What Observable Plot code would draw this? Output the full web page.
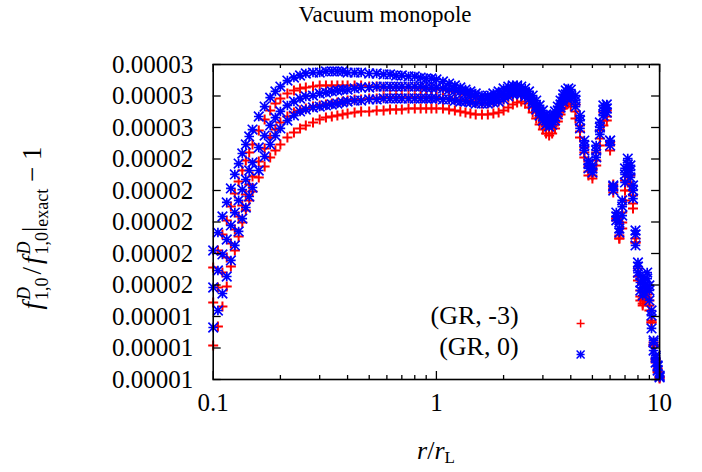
<!DOCTYPE html>
<html><head><meta charset="utf-8">
<script src="https://cdn.jsdelivr.net/npm/d3@7"></script>
<script src="https://cdn.jsdelivr.net/npm/@observablehq/plot@0.6"></script>
<style>html,body{margin:0;padding:0;background:#fff;}svg{display:block;}</style>
</head><body><div id="chart"></div>
<script>
const UNIT = 1e-5;
const FONT = "Liberation Serif";
const titleText = "Vacuum monopole";
const seriesLabels = ["(GR, -3)", "(GR, 0)"];
const seriesColors = ["#ff0000", "#0000ff"];

// r / r_L sample positions
const rValues = [
 0.100,0.105,0.110,0.115,0.120,0.125,0.130,0.135,0.140,0.145,
 0.150,0.160,0.170,0.180,0.190,0.200,0.215,0.230,0.245,0.260,
 0.280,0.300,0.32,0.34,0.36,0.38,0.40,0.43,0.46,0.50,
 0.54,0.58,0.62,0.66,0.70,0.75,0.80,0.85,0.90,0.95,
 1.00,1.07,1.14,1.21,1.28,1.35,1.42,1.50,1.6,1.7,
 1.8,1.9,2.0,2.1,2.2,2.3,2.4,2.5,2.6,2.7,
 2.8,2.9,3.0,3.1,3.2,3.3,3.4,3.5,3.6,3.7,
 3.8,3.9,4.0,4.2,4.4,4.6,4.8,5.0,5.2,5.4,
 5.6,5.8,6.0,6.2,6.4,6.6,6.8,7.0,7.2,7.4,
 7.6,7.8,8.0,8.2,8.4,8.6,8.8,9.0,9.2,9.4,
 9.6,9.8,10.0];

// (GR, -3): three curves, values in units of 1e-5
const grm3_a = [
 1.711,1.819,1.921,2.010,2.098,2.181,2.257,2.327,2.390,2.441,
 2.492,2.581,2.651,2.708,2.752,2.784,2.816,2.835,2.848,2.854,
 2.860,2.867,2.867,2.867,2.867,2.867,2.867,2.867,2.867,2.860,
 2.860,2.854,2.854,2.854,2.854,2.854,2.854,2.848,2.848,2.848,
 2.841,2.841,2.835,2.829,2.822,2.810,2.803,2.790,2.778,2.778,
 2.784,2.797,2.810,2.829,2.841,2.848,2.841,2.829,2.803,2.771,
 2.733,2.695,2.663,2.638,2.625,2.638,2.663,2.702,2.746,2.784,
 2.810,2.822,2.803,2.746,2.613,2.473,2.352,2.327,2.441,2.581,
 2.695,2.708,2.486,2.213,2.022,1.914,2.060,2.263,2.340,2.295,
 2.168,1.895,1.705,1.565,1.514,1.540,1.565,1.502,1.375,1.235,
 1.133,1.070,1.019];
const grm3_b = [
 1.489,1.584,1.679,1.775,1.863,1.952,2.035,2.105,2.175,2.238,
 2.289,2.384,2.467,2.537,2.587,2.632,2.670,2.695,2.708,2.721,
 2.733,2.740,2.746,2.752,2.759,2.765,2.771,2.778,2.778,2.784,
 2.784,2.790,2.790,2.790,2.790,2.790,2.790,2.790,2.790,2.790,
 2.790,2.784,2.784,2.778,2.771,2.771,2.765,2.759,2.752,2.752,
 2.759,2.765,2.778,2.790,2.803,2.810,2.803,2.790,2.765,2.733,
 2.702,2.663,2.632,2.606,2.594,2.606,2.632,2.670,2.714,2.752,
 2.778,2.784,2.771,2.702,2.575,2.441,2.321,2.295,2.390,2.530,
 2.644,2.670,2.505,2.238,2.010,1.895,1.997,2.200,2.289,2.238,
 2.117,1.870,1.654,1.527,1.483,1.514,1.540,1.470,1.362,1.216,
 1.121,1.051,1.013];
const grm3_c = [
 1.216,1.337,1.463,1.590,1.717,1.819,1.908,1.997,2.073,2.137,
 2.194,2.283,2.352,2.410,2.454,2.492,2.537,2.568,2.594,2.613,
 2.632,2.651,2.663,2.670,2.676,2.683,2.689,2.695,2.702,2.702,
 2.708,2.708,2.714,2.714,2.714,2.721,2.721,2.721,2.721,2.721,
 2.721,2.721,2.714,2.708,2.702,2.695,2.689,2.683,2.683,2.683,
 2.689,2.695,2.708,2.727,2.746,2.759,2.765,2.752,2.727,2.695,
 2.657,2.619,2.587,2.562,2.549,2.562,2.594,2.638,2.683,2.721,
 2.746,2.752,2.733,2.657,2.537,2.410,2.295,2.276,2.359,2.486,
 2.613,2.644,2.454,2.187,2.022,1.895,1.959,2.137,2.251,2.200,
 2.086,1.870,1.629,1.502,1.470,1.502,1.521,1.438,1.362,1.216,
 1.108,1.044,1.006];

// (GR, 0): three curves, values in units of 1e-5
const gr0_a = [
 1.819,1.933,2.035,2.124,2.213,2.302,2.371,2.435,2.492,2.543,
 2.587,2.670,2.733,2.790,2.829,2.860,2.898,2.917,2.930,2.943,
 2.949,2.949,2.956,2.956,2.956,2.956,2.949,2.949,2.949,2.943,
 2.943,2.937,2.937,2.930,2.930,2.924,2.924,2.917,2.911,2.911,
 2.905,2.892,2.879,2.867,2.854,2.841,2.829,2.816,2.803,2.803,
 2.816,2.829,2.848,2.860,2.867,2.867,2.860,2.848,2.829,2.803,
 2.771,2.740,2.708,2.683,2.670,2.676,2.702,2.733,2.771,2.810,
 2.835,2.848,2.841,2.803,2.676,2.517,2.390,2.359,2.486,2.632,
 2.740,2.746,2.517,2.232,2.060,1.997,2.137,2.340,2.403,2.359,
 2.232,1.946,1.743,1.660,1.629,1.641,1.679,1.597,1.438,1.248,
 1.152,1.089,1.025];
const gr0_b = [
 1.584,1.692,1.794,1.889,1.978,2.060,2.137,2.206,2.270,2.327,
 2.378,2.473,2.549,2.613,2.663,2.702,2.740,2.765,2.784,2.797,
 2.803,2.816,2.822,2.829,2.835,2.841,2.841,2.848,2.854,2.854,
 2.860,2.860,2.860,2.860,2.860,2.860,2.860,2.860,2.854,2.854,
 2.854,2.848,2.841,2.835,2.829,2.816,2.810,2.797,2.784,2.784,
 2.790,2.803,2.816,2.829,2.835,2.835,2.829,2.816,2.797,2.765,
 2.733,2.702,2.670,2.644,2.632,2.644,2.670,2.708,2.746,2.784,
 2.810,2.816,2.810,2.771,2.644,2.486,2.371,2.340,2.454,2.600,
 2.708,2.721,2.486,2.200,2.035,1.959,2.098,2.302,2.365,2.327,
 2.200,1.921,1.717,1.616,1.584,1.603,1.641,1.565,1.406,1.235,
 1.140,1.083,1.019];
const gr0_c = [
 1.330,1.438,1.546,1.654,1.756,1.851,1.940,2.022,2.092,2.162,
 2.219,2.327,2.416,2.492,2.549,2.594,2.644,2.676,2.702,2.714,
 2.727,2.733,2.740,2.746,2.752,2.759,2.765,2.771,2.771,2.778,
 2.778,2.784,2.784,2.784,2.784,2.784,2.784,2.784,2.784,2.784,
 2.784,2.778,2.778,2.771,2.765,2.765,2.759,2.752,2.752,2.752,
 2.759,2.765,2.778,2.797,2.810,2.816,2.810,2.797,2.778,2.746,
 2.714,2.676,2.644,2.619,2.606,2.619,2.644,2.683,2.727,2.765,
 2.790,2.797,2.784,2.733,2.594,2.454,2.340,2.314,2.410,2.556,
 2.676,2.695,2.517,2.225,2.010,1.933,2.041,2.251,2.327,2.283,
 2.149,1.851,1.679,1.565,1.533,1.552,1.578,1.502,1.324,1.184,
 1.108,1.057,1.013];

const xTicks = [0.1, 1, 10];
const xTickLabels = ["0.1", "1", "10"];
const xMinorTicks = [0.2,0.3,0.4,0.5,0.6,0.7,0.8,0.9,2,3,4,5,6,7,8,9];
const yTicks = [1.0,1.2,1.4,1.6,1.8,2.0,2.2,2.4,2.6,2.8,3.0];
const yTickLabels = ["0.00001","0.00001","0.00001","0.00002","0.00002","0.00002",
                     "0.00002","0.00002","0.00003","0.00003","0.00003"];

// gnuplot-like point symbols
const plusSymbol = {draw(ctx, size) {
  const s = Math.sqrt(size / Math.PI);
  ctx.moveTo(-s, 0); ctx.lineTo(s, 0);
  ctx.moveTo(0, -s); ctx.lineTo(0, s);
}};
const starSymbol = {draw(ctx, size) {
  const s = Math.sqrt(size / Math.PI);
  ctx.moveTo(-s, 0); ctx.lineTo(s, 0);
  ctx.moveTo(0, -s); ctx.lineTo(0, s);
  ctx.moveTo(-s, -s); ctx.lineTo(s, s);
  ctx.moveTo(-s, s); ctx.lineTo(s, -s);
}};

function rows(arr) { return arr.map((v, i) => ({r: rValues[i], v: v * UNIT})); }
const redRows = [grm3_a, grm3_b, grm3_c].flatMap(rows);
const blueRows = [gr0_a, gr0_b, gr0_c].flatMap(rows);

const W = 702, H = 472;
const mL = 212.7, mR = 42.9, mT = 64, mB = 93;
const fw = W - mL - mR, fh = H - mT - mB;

const chart = Plot.plot({
  width: W, height: H,
  marginLeft: mL, marginRight: mR, marginTop: mT, marginBottom: mB,
  style: {fontFamily: FONT, background: "#fff"},
  x: {type: "log", domain: [0.1, 10], axis: null},
  y: {domain: [1.0 * UNIT, 3.0 * UNIT], axis: null},
  marks: [
    Plot.dot(redRows, {x: "r", y: "v", symbol: plusSymbol, r: 5, fill: "none", stroke: seriesColors[0], strokeWidth: 2}),
    Plot.dot(blueRows, {x: "r", y: "v", symbol: starSymbol, r: 4.8, fill: "none", stroke: seriesColors[1], strokeWidth: 1.7}),
    // ticks (inward, mirrored)
    Plot.tickX(xTicks, {x: d => d, insetTop: fh - 8, stroke: "#000", strokeWidth: 1.3}),
    Plot.tickX(xTicks, {x: d => d, insetBottom: fh - 8, stroke: "#000", strokeWidth: 1.3}),
    Plot.tickX(xMinorTicks, {x: d => d, insetTop: fh - 4, stroke: "#000", strokeWidth: 1.3}),
    Plot.tickX(xMinorTicks, {x: d => d, insetBottom: fh - 4, stroke: "#000", strokeWidth: 1.3}),
    Plot.tickY(yTicks.map(d => d * UNIT), {y: d => d, insetRight: fw - 8, stroke: "#000", strokeWidth: 1.3}),
    Plot.tickY(yTicks.map(d => d * UNIT), {y: d => d, insetLeft: fw - 8, stroke: "#000", strokeWidth: 1.3}),
    Plot.frame({stroke: "#000", strokeWidth: 1.6}),
    // tick labels
    Plot.text(xTicks, {x: d => d, text: (d, i) => xTickLabels[i], frameAnchor: "bottom", dy: 31,
      fontSize: 25, fontFamily: FONT, fill: "#000"}),
    Plot.text(yTicks.map(d => d * UNIT), {y: d => d, text: (d, i) => yTickLabels[i], frameAnchor: "left",
      textAnchor: "end", dx: -20, fontSize: 25, fontFamily: FONT, fill: "#000"}),
    // legend
    Plot.text([seriesLabels[0]], {text: d => d, frameAnchor: "bottom-right", dx: -141, dy: -56,
      textAnchor: "end", fontSize: 26, fontFamily: FONT, fill: "#000"}),
    Plot.text([seriesLabels[1]], {text: d => d, frameAnchor: "bottom-right", dx: -141, dy: -25,
      textAnchor: "end", fontSize: 26, fontFamily: FONT, fill: "#000"}),
    Plot.dot([0], {frameAnchor: "bottom-right", dx: -79, dy: -56, symbol: plusSymbol, r: 4, fill: "none",
      stroke: seriesColors[0], strokeWidth: 1.5}),
    Plot.dot([0], {frameAnchor: "bottom-right", dx: -79, dy: -25, symbol: starSymbol, r: 4, fill: "none",
      stroke: seriesColors[1], strokeWidth: 1.5})
  ]
});

const svg = d3.select(chart);
// title
svg.append("text").attr("x", 385).attr("y", 22).attr("text-anchor", "middle")
  .attr("font-family", FONT).attr("font-size", 23).attr("fill", "#000").text(titleText);

// x label  r / r_L
const xl = svg.append("text").attr("x", 436).attr("y", 459).attr("text-anchor", "middle")
  .attr("font-family", FONT).attr("font-size", 26).attr("fill", "#000");
xl.append("tspan").attr("font-style", "italic").text("r");
xl.append("tspan").text("/");
xl.append("tspan").attr("font-style", "italic").text("r");
xl.append("tspan").attr("font-size", 17).attr("dy", 4).text("L");

// y label  f^D_{1,0} / f^D_{1,0}|_exact − 1
const yg = svg.append("g").attr("transform", "translate(41,228) rotate(-90)");
const yl = yg.append("text").attr("text-anchor", "middle")
  .attr("font-family", FONT).attr("font-size", 27).attr("fill", "#000");
yl.append("tspan").attr("font-style", "italic").text("f");
yl.append("tspan").attr("font-style", "italic").attr("font-size", 18).attr("dx", 2).attr("dy", -11).text("D");
yl.append("tspan").attr("font-size", 18).attr("dx", -13).attr("dy", 18).text("1,0");
yl.append("tspan").attr("dy", -7).attr("dx", 3).text("/");
yl.append("tspan").attr("font-style", "italic").attr("dx", 3).text("f");
yl.append("tspan").attr("font-style", "italic").attr("font-size", 18).attr("dx", 2).attr("dy", -11).text("D");
yl.append("tspan").attr("font-size", 18).attr("dx", -13).attr("dy", 18).text("1,0");
yl.append("tspan").attr("dy", -7).text("|");
yl.append("tspan").attr("font-size", 18).attr("dy", 7).text("exact");
yl.append("tspan").attr("dy", -7).text(" \u2212 1");

document.getElementById("chart").appendChild(chart);
</script>
</body></html>
